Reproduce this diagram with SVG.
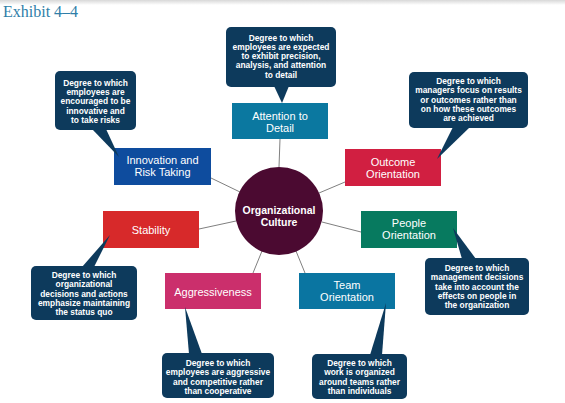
<svg xmlns="http://www.w3.org/2000/svg" width="565" height="403" viewBox="0 0 565 403">
<defs>
<linearGradient id="topShade" x1="0" y1="0" x2="0" y2="1">
<stop offset="0" stop-color="#d8d8d8"/>
<stop offset="1" stop-color="#ffffff"/>
</linearGradient>
</defs>
<style>
.box-label{font-family:"Liberation Sans",Arial,sans-serif;font-size:11px;fill:#ffffff;text-anchor:middle}
.bubble{fill:#0d3a5c}
.bubble-text{font-family:"Liberation Sans",Arial,sans-serif;font-size:8.4px;font-weight:bold;fill:#ffffff;text-anchor:middle}
.conn{stroke:#808080;stroke-width:1;fill:none}
.center-label{font-family:"Liberation Sans",Arial,sans-serif;font-size:10.5px;font-weight:bold;fill:#ffffff;text-anchor:middle}
</style>
<rect x="0" y="0" width="565" height="403" fill="#ffffff"/>
<rect x="0" y="0" width="565" height="5" fill="url(#topShade)"/>
<text x="3" y="17" font-family="Liberation Serif,Times New Roman,serif" font-size="16" fill="#2e7ea8">Exhibit 4–4</text>

<g id="connectors">
<line class="conn" x1="280" y1="139" x2="279" y2="167"/>
<line class="conn" x1="211" y1="178" x2="240" y2="192"/>
<line class="conn" x1="345" y1="182" x2="319" y2="193"/>
<line class="conn" x1="199" y1="229" x2="236" y2="221"/>
<line class="conn" x1="361" y1="232" x2="322" y2="222"/>
<line class="conn" x1="305" y1="273" x2="296" y2="251"/>
<line class="conn" x1="253" y1="273" x2="262" y2="251"/>
</g>

<g id="center">
<circle cx="279" cy="211" r="44" fill="#4b0a31"/>
<text class="center-label" x="279" y="214">Organizational</text>
<text class="center-label" x="279" y="226">Culture</text>
</g>

<g id="attention">
<rect x="232" y="103" width="96" height="36" fill="#0b78a0"/>
<text class="box-label" x="280" y="120">Attention to</text>
<text class="box-label" x="280" y="132">Detail</text>
<rect class="bubble" x="226" y="27" width="110" height="60" rx="5"/>
<polygon class="bubble" points="274,86 289,86 282,103"/>
<text class="bubble-text" x="281" y="40.5">Degree to which</text>
<text class="bubble-text" x="281" y="49.8">employees are expected</text>
<text class="bubble-text" x="281" y="59.1">to exhibit precision,</text>
<text class="bubble-text" x="281" y="68.4">analysis, and attention</text>
<text class="bubble-text" x="281" y="77.7">to detail</text>
</g>

<g id="innovation">
<rect x="114" y="148" width="97" height="37" fill="#0e4c9e"/>
<text class="box-label" x="162.5" y="164">Innovation and</text>
<text class="box-label" x="162.5" y="176">Risk Taking</text>
<rect class="bubble" x="55" y="71" width="81" height="59" rx="5"/>
<polygon class="bubble" points="92,129 106,129 119,157"/>
<text class="bubble-text" x="95.5" y="86">Degree to which</text>
<text class="bubble-text" x="95.5" y="95.2">employees are</text>
<text class="bubble-text" x="95.5" y="104.4">encouraged to be</text>
<text class="bubble-text" x="95.5" y="113.6">innovative and</text>
<text class="bubble-text" x="95.5" y="122.8">to take risks</text>
</g>

<g id="outcome">
<rect x="345" y="149" width="96" height="37" fill="#d11f41"/>
<text class="box-label" x="393" y="166">Outcome</text>
<text class="box-label" x="393" y="178">Orientation</text>
<rect class="bubble" x="409" y="72" width="119" height="56" rx="5"/>
<polygon class="bubble" points="453,127 470,127 437,159"/>
<text class="bubble-text" x="468.5" y="84">Degree to which</text>
<text class="bubble-text" x="468.5" y="93.3">managers focus on results</text>
<text class="bubble-text" x="468.5" y="102.6">or outcomes rather than</text>
<text class="bubble-text" x="468.5" y="111.9">on how these outcomes</text>
<text class="bubble-text" x="468.5" y="121.2">are achieved</text>
</g>

<g id="stability">
<rect x="103" y="211" width="96" height="37" fill="#d7292a"/>
<text class="box-label" x="151" y="234">Stability</text>
<rect class="bubble" x="31" y="266" width="106" height="54" rx="5"/>
<polygon class="bubble" points="82,267 94,267 110,235"/>
<text class="bubble-text" x="84" y="278">Degree to which</text>
<text class="bubble-text" x="84" y="287.3">organizational</text>
<text class="bubble-text" x="84" y="296.6">decisions and actions</text>
<text class="bubble-text" x="84" y="305.9">emphasize maintaining</text>
<text class="bubble-text" x="84" y="315.2">the status quo</text>
</g>

<g id="people">
<rect x="361" y="211" width="96" height="37" fill="#077a5f"/>
<text class="box-label" x="409" y="227">People</text>
<text class="box-label" x="409" y="239">Orientation</text>
<rect class="bubble" x="425" y="258" width="104" height="57" rx="5"/>
<polygon class="bubble" points="462,259 476,259 453,228"/>
<text class="bubble-text" x="477" y="271">Degree to which</text>
<text class="bubble-text" x="477" y="280.3">management decisions</text>
<text class="bubble-text" x="477" y="289.6">take into account the</text>
<text class="bubble-text" x="477" y="298.9">effects on people in</text>
<text class="bubble-text" x="477" y="308.2">the organization</text>
</g>

<g id="team">
<rect x="299" y="273" width="96" height="36" fill="#0a75a1"/>
<text class="box-label" x="347" y="289">Team</text>
<text class="box-label" x="347" y="301">Orientation</text>
<rect class="bubble" x="312" y="354" width="95" height="45" rx="5"/>
<polygon class="bubble" points="370,355 382,355 386,303"/>
<text class="bubble-text" x="359.5" y="366">Degree to which</text>
<text class="bubble-text" x="359.5" y="375.3">work is organized</text>
<text class="bubble-text" x="359.5" y="384.6">around teams rather</text>
<text class="bubble-text" x="359.5" y="393.9">than individuals</text>
</g>

<g id="aggressiveness">
<rect x="165" y="273" width="96" height="36" fill="#cb2f6c"/>
<text class="box-label" x="213" y="296">Aggressiveness</text>
<rect class="bubble" x="162" y="353" width="112" height="45" rx="5"/>
<polygon class="bubble" points="189,354 202,354 185,307"/>
<text class="bubble-text" x="218" y="366">Degree to which</text>
<text class="bubble-text" x="218" y="375.3">employees are aggressive</text>
<text class="bubble-text" x="218" y="384.6">and competitive rather</text>
<text class="bubble-text" x="218" y="393.9">than cooperative</text>
</g>
</svg>
